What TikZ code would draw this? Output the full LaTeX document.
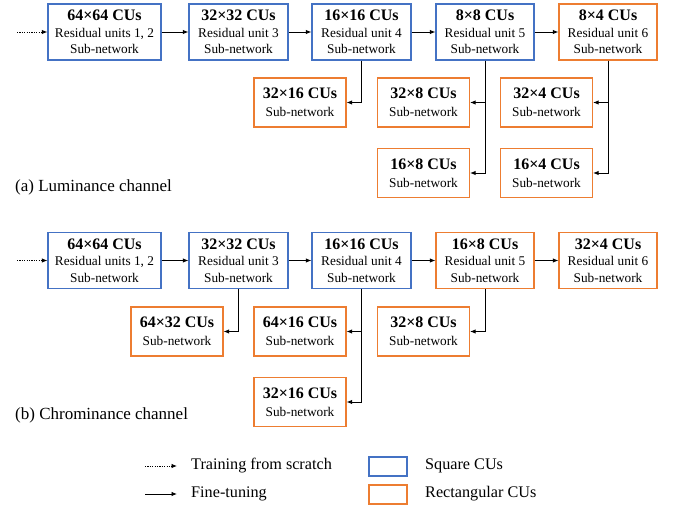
\documentclass[tikz,border=0pt]{standalone}
\usepackage{fontspec}
\setmainfont{Liberation Serif}
\usetikzlibrary{arrows.meta}
\definecolor{sqblue}{RGB}{68,114,196}
\definecolor{rcorange}{RGB}{237,125,49}
\newcommand{\ttl}[1]{{\fontsize{16}{16.5}\selectfont\bfseries #1}}
\tikzset{
  cubox/.style={draw, line width=1.25pt, inner sep=0pt, align=center, minimum height=56pt,
    font=\fontsize{13.3}{16.5}\selectfont},
  sq/.style={cubox, draw=sqblue},
  rc/.style={cubox, draw=rcorange},
  small/.style={minimum height=49pt, minimum width=92pt},
  arr/.style={-{Latex[length=5.5pt,width=4.5pt]}, line width=0.9pt},
  darr/.style={arr, dash pattern=on 1.2pt off 1.2pt},
  captext/.style={anchor=west, inner sep=0pt, font=\fontsize{17}{18}\selectfont},
  leg/.style={anchor=west, inner sep=0pt, font=\fontsize{16.2}{18}\selectfont},
}
\begin{document}
\begin{tikzpicture}[x=1pt,y=-1pt]
\path[use as bounding box] (0,0) rectangle (678,508);
% (a) Luminance
\node[sq, minimum width=113pt] (a1) at (104.5,32) {\ttl{64×64 CUs}\\Residual units 1, 2\\Sub-network};
\node[sq, minimum width=99pt] (a2) at (238.5,32) {\ttl{32×32 CUs}\\Residual unit 3\\Sub-network};
\node[sq, minimum width=99pt] (a3) at (361.5,32) {\ttl{16×16 CUs}\\Residual unit 4\\Sub-network};
\node[sq, minimum width=98pt] (a4) at (485,32) {\ttl{8×8 CUs}\\Residual unit 5\\Sub-network};
\node[rc, minimum width=98pt] (a5) at (608,32) {\ttl{8×4 CUs}\\Residual unit 6\\Sub-network};
\node[rc, small] (a3216) at (300,102.5) {\ttl{32×16 CUs}\\[1.5pt]Sub-network};
\node[rc, small] (a328) at (423.5,102.5) {\ttl{32×8 CUs}\\[1.5pt]Sub-network};
\node[rc, small] (a324) at (546.5,102.5) {\ttl{32×4 CUs}\\[1.5pt]Sub-network};
\node[rc, small] (a168) at (423.5,173) {\ttl{16×8 CUs}\\[1.5pt]Sub-network};
\node[rc, small] (a164) at (546.5,173) {\ttl{16×4 CUs}\\[1.5pt]Sub-network};
\coordinate (ain) at (17,32);
\draw[darr] (ain) -- (a1);
\draw[arr] (a1) -- (a2);
\draw[arr] (a2) -- (a3);
\draw[arr] (a3) -- (a4);
\draw[arr] (a4) -- (a5);
\draw[arr] (a3.south) |- (a3216.east);
\draw[arr] (a4.south) |- (a328.east);
\draw[arr] (a4.south) |- (a168.east);
\draw[arr] (a5.south) |- (a324.east);
\draw[arr] (a5.south) |- (a164.east);
\node[captext] (capa) at (15,187) {(a) Luminance channel};
% (b) Chrominance
\node[sq, minimum width=113pt] (b1) at (104.5,260.5) {\ttl{64×64 CUs}\\Residual units 1, 2\\Sub-network};
\node[sq, minimum width=99pt] (b2) at (238.5,260.5) {\ttl{32×32 CUs}\\Residual unit 3\\Sub-network};
\node[sq, minimum width=99pt] (b3) at (361.5,260.5) {\ttl{16×16 CUs}\\Residual unit 4\\Sub-network};
\node[rc, minimum width=98pt] (b4) at (485,260.5) {\ttl{16×8 CUs}\\Residual unit 5\\Sub-network};
\node[rc, minimum width=98pt] (b5) at (608,260.5) {\ttl{32×4 CUs}\\Residual unit 6\\Sub-network};
\node[rc, small] (b6432) at (177,331.5) {\ttl{64×32 CUs}\\[1.5pt]Sub-network};
\node[rc, small] (b6416) at (300,331.5) {\ttl{64×16 CUs}\\[1.5pt]Sub-network};
\node[rc, small] (b328) at (423.5,331.5) {\ttl{32×8 CUs}\\[1.5pt]Sub-network};
\node[rc, small] (b3216) at (300,402) {\ttl{32×16 CUs}\\[1.5pt]Sub-network};
\coordinate (bin) at (17,260.5);
\draw[darr] (bin) -- (b1);
\draw[arr] (b1) -- (b2);
\draw[arr] (b2) -- (b3);
\draw[arr] (b3) -- (b4);
\draw[arr] (b4) -- (b5);
\draw[arr] (b2.south) |- (b6432.east);
\draw[arr] (b3.south) |- (b6416.east);
\draw[arr] (b3.south) |- (b3216.east);
\draw[arr] (b4.south) |- (b328.east);
\node[captext] (capb) at (15,415) {(b) Chrominance channel};
% legend
\coordinate (l1s) at (145,466);
\coordinate (l1e) at (177,466);
\coordinate (l2s) at (145,494);
\coordinate (l2e) at (177,494);
\draw[darr] (l1s) -- (l1e);
\draw[arr] (l2s) -- (l2e);
\node[leg] (lt1) at (191,466) {Training from scratch};
\node[leg] (lt2) at (191,494) {Fine-tuning};
\node[draw=sqblue, line width=1.25pt, minimum width=38pt, minimum height=19pt, inner sep=0pt] (lsq) at (388,466.5) {};
\node[draw=rcorange, line width=1.25pt, minimum width=38pt, minimum height=19pt, inner sep=0pt] (lrc) at (388,494.5) {};
\node[leg] (lt3) at (425,466) {Square CUs};
\node[leg] (lt4) at (425,494) {Rectangular CUs};
\end{tikzpicture}
\end{document}
